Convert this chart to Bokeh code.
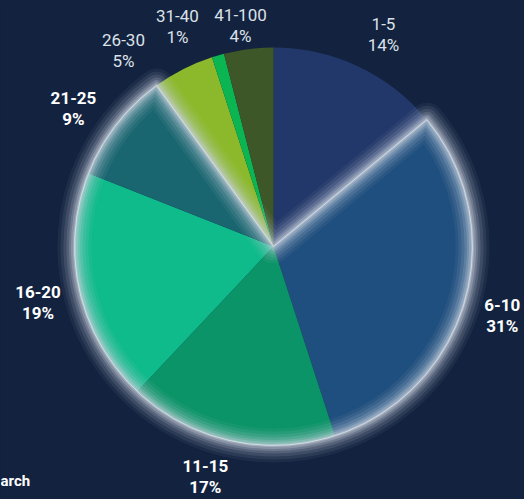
import math
from bokeh.plotting import figure
from bokeh.models import Range1d, GlobalInlineStyleSheet
from bokeh.core.properties import value
from bokeh.embed import file_html
from bokeh.resources import INLINE

# ---- data ----
categories = ["1-5", "6-10", "11-15", "16-20", "21-25", "26-30", "31-40", "41-100"]
shares = [14, 31, 17, 19, 9, 5, 1, 4]
highlighted = [False, True, True, True, True, False, False, False]
colors = ["#22386a", "#1f4f7e", "#0b9468", "#0fbb8b", "#1a6670", "#8cb92c", "#0bb552", "#3e5728"]

# ---- layout / style ----
BG = "#13233f"
W, H = 524, 499
CX, CY_IMG, R = 273, 246, 199
# label direction (deg clockwise from top) and distance from centre
label_dirs = [27.4, 106.8, 196.5, 256.7, 304.6, 322.6, 336.4, 351.5]
label_dist = [239, 239, 240, 242, 243, 247, 240, 223]

def ydata(img_y):
    return H - img_y

CY = ydata(CY_IMG)

css = GlobalInlineStyleSheet(css=f"html, body {{ background: {BG}; margin: 0; padding: 0; overflow: hidden; }}")
p = figure(width=W, height=H, output_backend="svg", toolbar_location=None,
           x_range=Range1d(0, W), y_range=Range1d(0, H),
           min_border=0, stylesheets=[css])
p.axis.visible = False
p.grid.visible = False
p.outline_line_color = None
p.background_fill_color = BG
p.border_fill_color = BG

total = float(sum(shares))
cum = [0.0]
for s in shares:
    cum.append(cum[-1] + s / total)

starts = [math.pi / 2 - 2 * math.pi * cum[i + 1] for i in range(len(shares))]
ends = [math.pi / 2 - 2 * math.pi * cum[i] for i in range(len(shares))]

p.wedge(x=[CX] * len(shares), y=[CY] * len(shares), radius=R,
        start_angle=starts, end_angle=ends, direction="anticlock",
        fill_color=colors, line_color=None)

# glow around highlighted group
hi = [i for i, h in enumerate(highlighted) if h]
g_start = math.pi / 2 - 2 * math.pi * cum[hi[-1] + 1]
g_end = math.pi / 2 - 2 * math.pi * cum[hi[0]]
for lw, la in [(34, 0.06), (28, 0.09), (22, 0.12), (16, 0.16), (11, 0.22), (7, 0.3), (3, 0.4)]:
    p.wedge(x=[CX], y=[CY], radius=R, start_angle=[g_start], end_angle=[g_end],
            direction="anticlock", fill_alpha=0, line_color="#c9d1dd",
            line_width=lw, line_alpha=la, line_join="round")
p.wedge(x=[CX], y=[CY], radius=R, start_angle=[g_start], end_angle=[g_end],
        direction="anticlock", fill_alpha=0, line_color="#eef3f8",
        line_width=1, line_alpha=0.6, line_join="round")

# labels
for i, cat in enumerate(categories):
    a = math.radians(label_dirs[i])
    lx = CX + label_dist[i] * math.sin(a)
    ly = CY + label_dist[i] * math.cos(a)
    pct = f"{round(shares[i] / total * 100)}%"
    bold = highlighted[i]
    p.text(x=[lx, lx], y=[ly + 10.5, ly - 10.5], text=[cat, pct],
           text_align="center", text_baseline="middle",
           text_font=value("Roboto"), text_font_size="17px",
           text_font_style="bold" if bold else "normal",
           text_color="#ffffff" if bold else "#dce1e8")

p.text(x=[0], y=[ydata(480)], text=["arch"], text_align="left", text_baseline="middle",
       text_font=value("Roboto"), text_font_size="15px", text_font_style="bold",
       text_color="#ffffff")

open("out.html", "w").write(file_html(p, INLINE))
